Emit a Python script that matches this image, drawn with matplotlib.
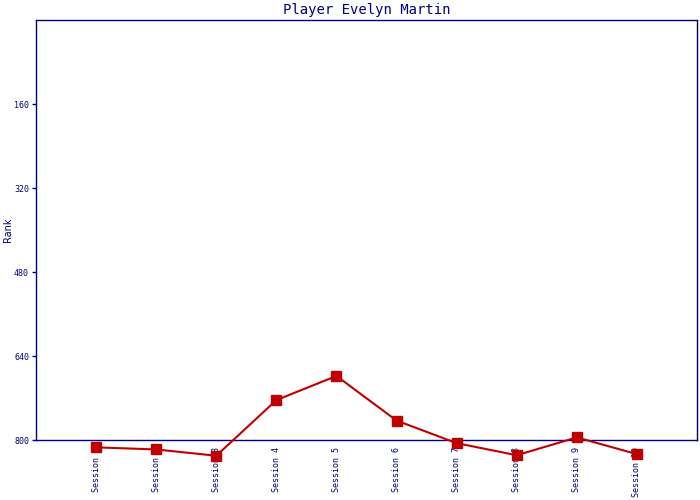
import matplotlib
matplotlib.use("Agg")
import matplotlib.pyplot as plt

sessions = ["Session 1", "Session 2", "Session 3", "Session 4", "Session 5",
            "Session 6", "Session 7", "Session 8", "Session 9", "Session 10"]
ranks = [814, 818, 830, 724, 678, 763, 806, 829, 795, 827]
yticks = [160, 320, 480, 640, 800]

navy = "#000080"
red = "#c00000"

fig = plt.figure(figsize=(7, 5), dpi=100)
ax = fig.add_axes([36/700, 60/500, 661/700, 420/500])

x = list(range(1, len(sessions) + 1))
ax.plot(x, ranks, color=red, linewidth=1.5, marker="s", markersize=6.5,
        clip_on=False, zorder=5)

ax.set_xlim(0, 11)
ax.set_ylim(800, 0)
ax.set_yticks(yticks)
ax.set_yticklabels([str(v) for v in yticks], family="DejaVu Sans Mono",
                   fontsize=6, color=navy)
ax.set_xticks(x)
ax.set_xticklabels(sessions, rotation=90, family="DejaVu Sans Mono",
                   fontsize=6, color=navy, va="top", ha="center")
ax.tick_params(axis="x", length=0, pad=5)
ax.tick_params(axis="y", length=3, width=1, color=navy, pad=2)
for s in ax.spines.values():
    s.set_color(navy)
    s.set_linewidth(1)

ax.set_ylabel("Rank", color=navy, fontsize=7)
ax.yaxis.set_label_coords(-23/661, 0.5)
ax.set_title("Player Evelyn Martin", family="DejaVu Sans Mono", fontsize=10,
             color=navy, pad=4)

fig.savefig("out.png", dpi=100)
